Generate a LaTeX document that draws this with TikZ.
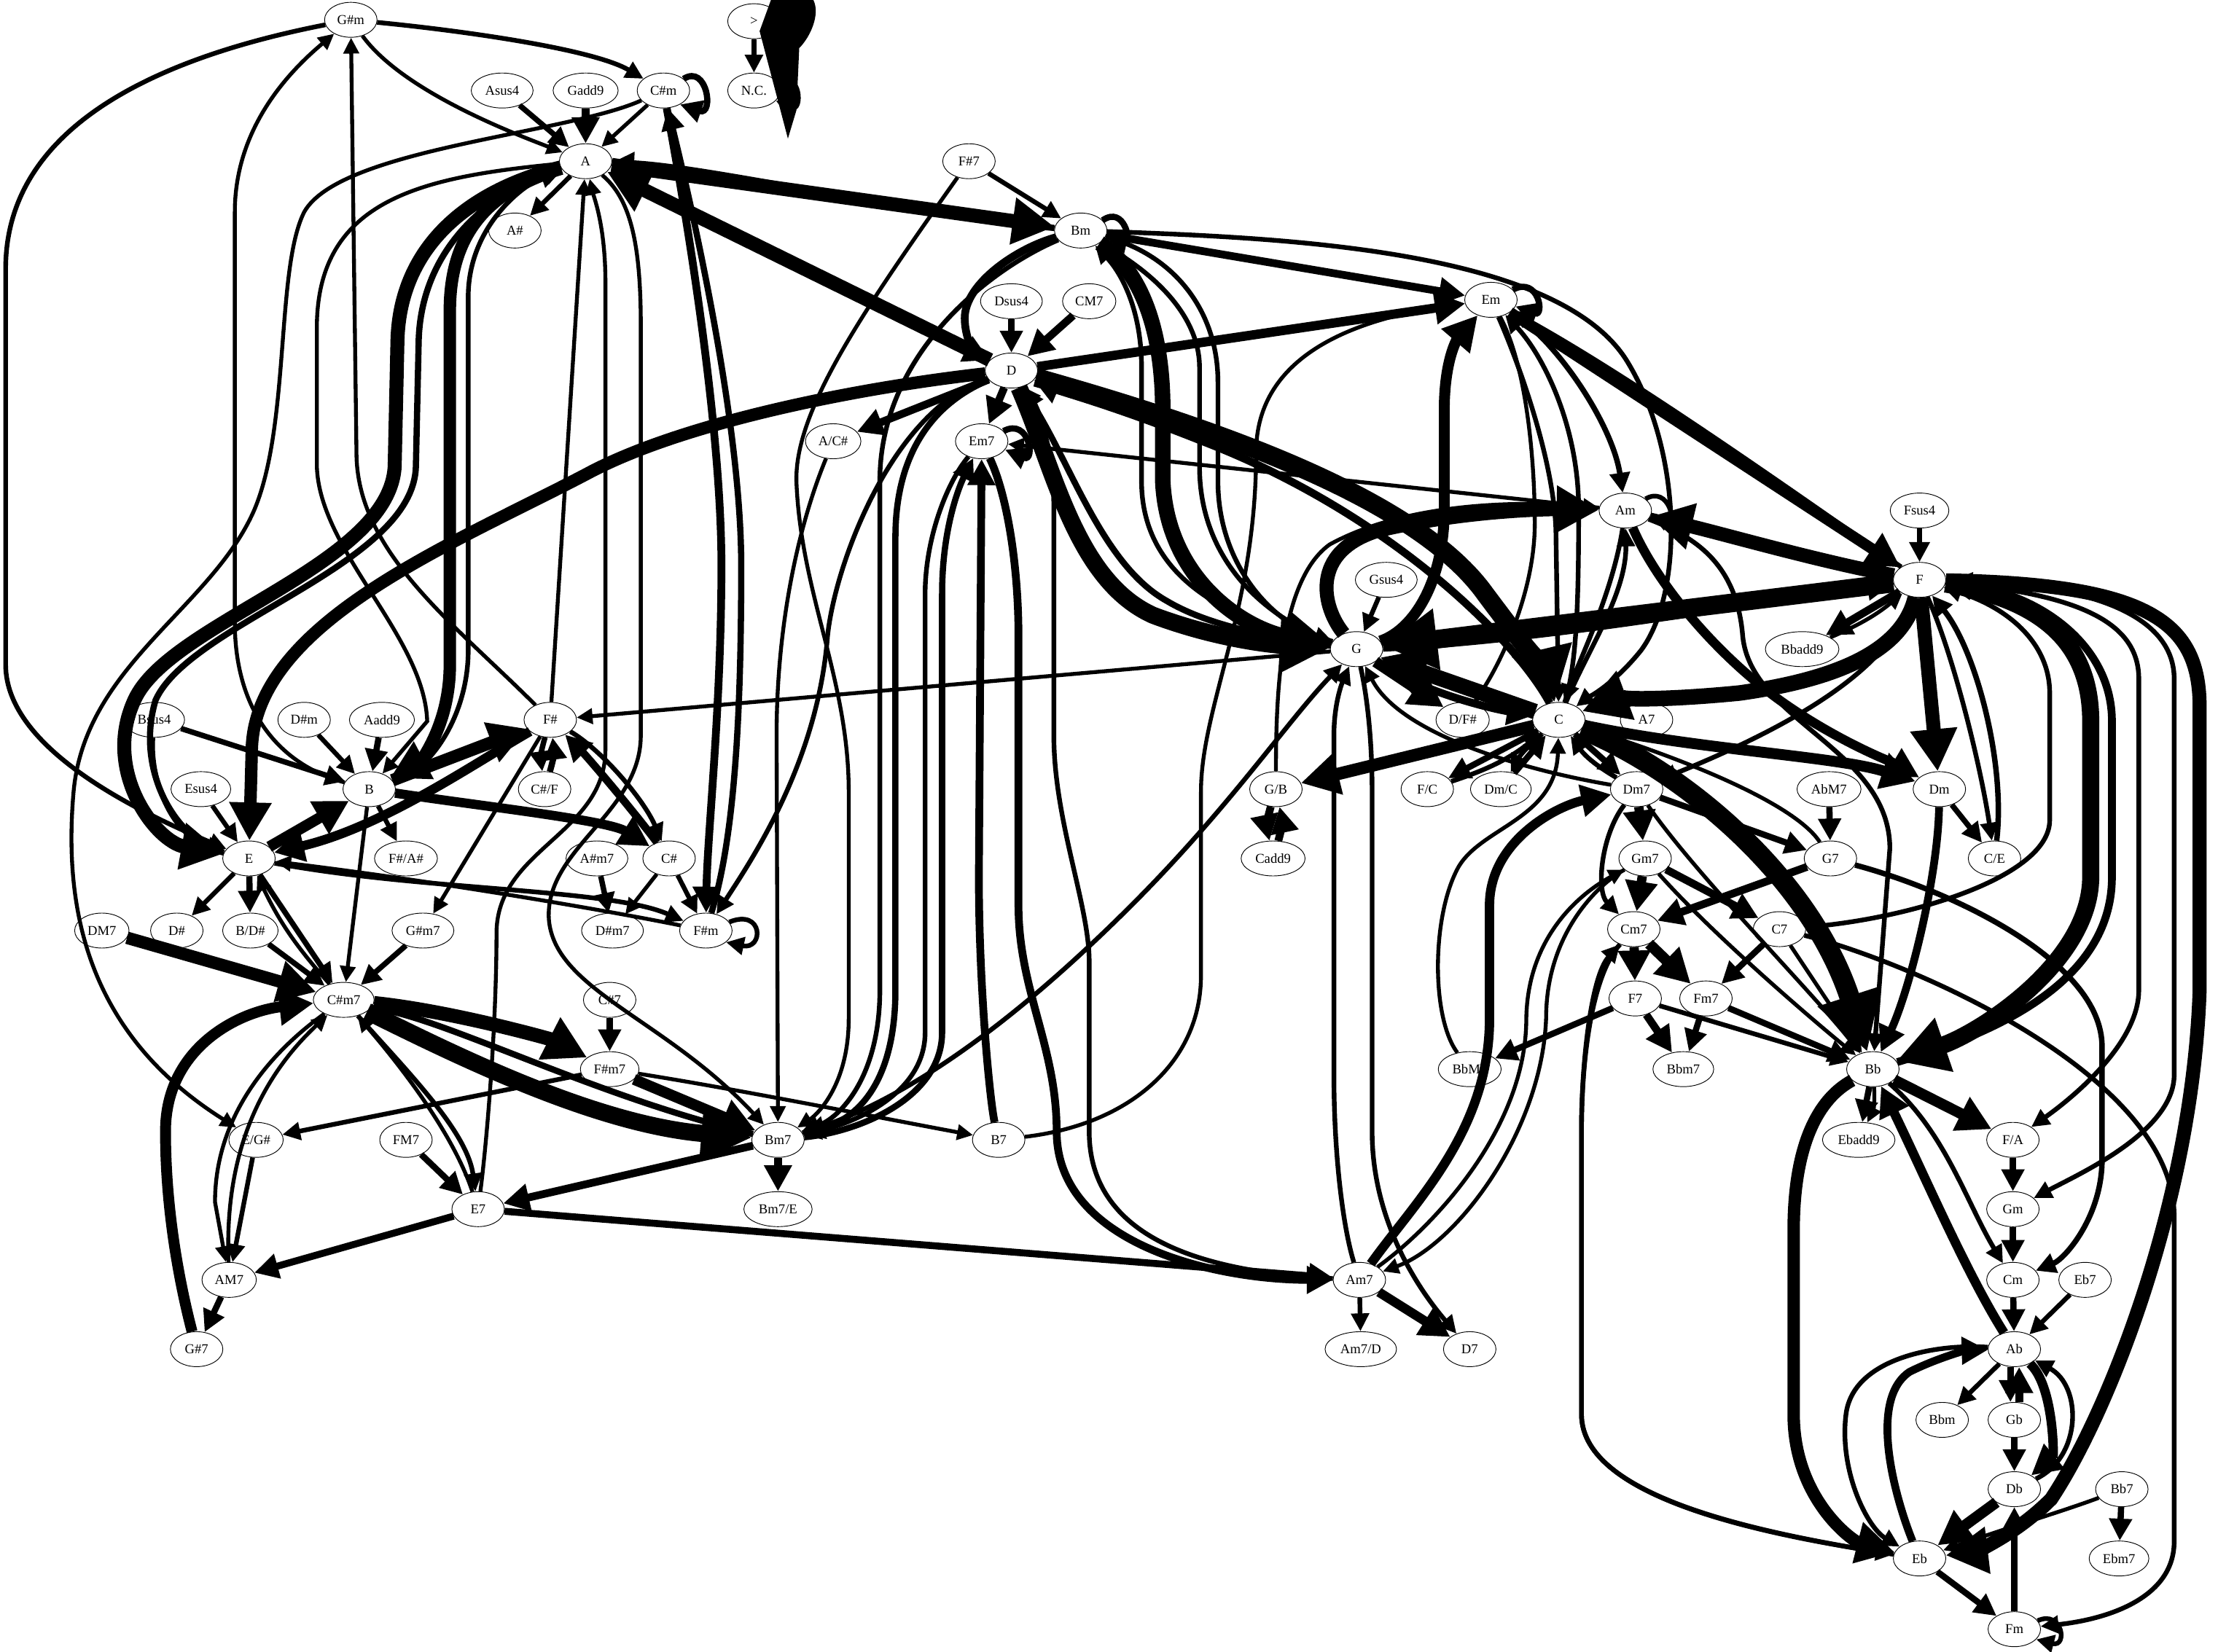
\documentclass[tikz,border=0pt]{standalone}
\usepackage{fontspec}
\setmainfont{Liberation Serif}
\usetikzlibrary{shapes.geometric,arrows.meta}
\tikzset{
  nd/.style={ellipse, draw, line width=0.7pt, minimum width=54pt, minimum height=36pt, inner xsep=5pt, inner ysep=1pt, font=\fontsize{14}{16}\selectfont},
  ed/.style={draw, line width=#1*1.6pt, -{Triangle[length=6pt 2.6, width=4pt 2.9]}},
}
\begin{document}
\begin{tikzpicture}[x=1.4556pt, y=-1.4556pt]
\fill[white] (0,0) rectangle (1568,1168);
\useasboundingbox (0,0) rectangle (1568,1168);
% nodes
\node[nd] (Gsm) at (248,14) {G\#m};
\node[nd] (gt) at (533,15) {>};
\node[nd] (NC) at (533,64) {N.C.};
\node[nd] (Asus) at (355,64) {Asus4};
\node[nd] (Gadd) at (414,64) {Gadd9};
\node[nd] (Csm) at (469,64) {C\#m};
\node[nd] (A) at (414,114) {A};
\node[nd] (As) at (364,163) {A\#};
\node[nd] (Fs7) at (685,114) {F\#7};
\node[nd] (Bm) at (764,163) {Bm};
\node[nd] (Dsus) at (715,213) {Dsus4};
\node[nd] (CM7) at (770,213) {CM7};
\node[nd] (Em) at (1054,212) {Em};
\node[nd] (D) at (715,262) {D};
\node[nd] (ACs) at (589,312) {A/C\#};
\node[nd] (Em7) at (694,312) {Em7};
\node[nd] (Am) at (1149,361) {Am};
\node[nd] (Fsus) at (1357,361) {Fsus4};
\node[nd] (F) at (1357,410) {F};
\node[nd] (Gsus) at (980,410) {Gsus4};
\node[nd] (Bbadd) at (1274,459) {Bbadd9};
\node[nd] (G) at (959,459) {G};
\node[nd] (DFs) at (1034,509) {D/F\#};
\node[nd] (C) at (1102,509) {C};
\node[nd] (A7) at (1164,509) {A7};
\node[nd] (Bsus) at (109,509) {Bsus4};
\node[nd] (Dsm) at (215,509) {D\#m};
\node[nd] (Aadd) at (270,509) {Aadd9};
\node[nd] (Fs) at (389,509) {F\#};
\node[nd] (B) at (261,558) {B};
\node[nd] (CsF) at (385,558) {C\#/F};
\node[nd] (GB) at (902,558) {G/B};
\node[nd] (FC) at (1009,558) {F/C};
\node[nd] (DmC) at (1061,558) {Dm/C};
\node[nd] (Dm7) at (1157,558) {Dm7};
\node[nd] (AbM7) at (1293,558) {AbM7};
\node[nd] (Dm) at (1371,558) {Dm};
\node[nd] (Esus) at (142,558) {Esus4};
\node[nd] (E) at (176,607) {E};
\node[nd] (FsAs) at (287,607) {F\#/A\#};
\node[nd] (Asm7) at (422,607) {A\#m7};
\node[nd] (Cs) at (473,607) {C\#};
\node[nd] (Cadd) at (900,607) {Cadd9};
\node[nd] (Gm7) at (1163,607) {Gm7};
\node[nd] (G7) at (1294,607) {G7};
\node[nd] (CE) at (1410,607) {C/E};
\node[nd] (DM7) at (72,658) {DM7};
\node[nd] (Ds) at (125,658) {D\#};
\node[nd] (BDs) at (177,658) {B/D\#};
\node[nd] (Gsm7) at (299,658) {G\#m7};
\node[nd] (Dsm7) at (433,658) {D\#m7};
\node[nd] (Fsm) at (499,658) {F\#m};
\node[nd] (Cm7) at (1155,657) {Cm7};
\node[nd] (C7) at (1258,657) {C7};
\node[nd] (Csm7) at (243,707) {C\#m7};
\node[nd] (Cs7) at (431,707) {C\#7};
\node[nd] (F7) at (1156,706) {F7};
\node[nd] (Fm7) at (1206,706) {Fm7};
\node[nd] (Fsm7) at (431,756) {F\#m7};
\node[nd] (BbM7) at (1039,756) {BbM7};
\node[nd] (Bbm7) at (1190,756) {Bbm7};
\node[nd] (Bb) at (1324,756) {Bb};
\node[nd] (EGs) at (181,806) {E/G\#};
\node[nd] (Bm7) at (550,806) {Bm7};
\node[nd] (B7) at (706,806) {B7};
\node[nd] (Ebadd) at (1314,806) {Ebadd9};
\node[nd] (FA) at (1423,806) {F/A};
\node[nd] (FM7) at (287,806) {FM7};
\node[nd] (E7) at (338,855) {E7};
\node[nd] (Bm7E) at (550,855) {Bm7/E};
\node[nd] (Gm) at (1423,855) {Gm};
\node[nd] (AM7) at (162,905) {AM7};
\node[nd] (Am7) at (961,905) {Am7};
\node[nd] (Cm) at (1423,905) {Cm};
\node[nd] (Eb7) at (1474,905) {Eb7};
\node[nd] (Gs7) at (139,954) {G\#7};
\node[nd] (Am7D) at (962,954) {Am7/D};
\node[nd] (D7) at (1039,954) {D7};
\node[nd] (Ab) at (1424,954) {Ab};
\node[nd] (Bbm) at (1373,1004) {Bbm};
\node[nd] (Gb) at (1424,1004) {Gb};
\node[nd] (Db) at (1424,1053) {Db};
\node[nd] (Bb7) at (1500,1053) {Bb7};
\node[nd] (Eb) at (1357,1102) {Eb};
\node[nd] (Ebm7) at (1498,1102) {Ebm7};
\node[nd] (Fm) at (1424,1152) {Fm};
% top blob
\fill (545,0) -- (575,0) .. controls (580,10) and (573,26) .. (565,34) -- (563,78) -- (557,98) -- (537,22) -- cycle;
\draw[ed=3] (gt) -- (NC);
\draw[ed=3] (NC.15) .. controls (566,48) and (568,80) .. (NC.-25);
% top-left cluster
\draw[ed=3] (Gsm) .. controls (330,22) and (420,35) .. (Csm);
\draw[ed=2.5] (Gsm) .. controls (285,65) and (365,95) .. (A);
\draw[ed=3] (Gsm) .. controls (90,45) and (4,100) .. (4,190) -- (4,470) .. controls (4,530) and (100,575) .. (E);
\draw[ed=2.5] (B) .. controls (195,540) and (166,500) .. (166,440) -- (166,150) .. controls (166,90) and (205,50) .. (Gsm);
\draw[ed=2.5] (Fs) .. controls (320,440) and (252,390) .. (252,320) -- (Gsm);
\draw[ed=2.5] (Csm) .. controls (400,95) and (240,105) .. (215,150) .. controls (195,190) and (205,300) .. (180,360) .. controls (150,430) and (60,470) .. (52,560) .. controls (45,640) and (60,730) .. (EGs);
\draw[ed=2.5] (A) .. controls (300,125) and (225,140) .. (224,230) -- (224,330) .. controls (226,390) and (300,450) .. (302,510) -- (B);
\draw[ed=3.5] (Asus) -- (A);
\draw[ed=5] (Gadd) -- (A);
\draw[ed=2.5] (Csm) -- (A);
\draw[ed=4] (Csm.30) .. controls (500,45) and (505,82) .. (Csm.-40);
\draw[ed=3] (A) -- (As);
\draw[ed=9] (A) -- (Bm);
\draw[ed=4] (Bm) .. controls (650,152) and (500,118) .. (A);
\draw[ed=9] (D) -- (A);
\draw[ed=9] (A) .. controls (330,135) and (283,175) .. (281,240) -- (279,330) .. controls (275,400) and (120,440) .. (95,495) .. controls (72,545) and (110,595) .. (E);
\draw[ed=4] (E) .. controls (125,595) and (95,545) .. (110,495) .. controls (135,440) and (292,400) .. (294,330) -- (296,240) .. controls (298,180) and (340,140) .. (A);
\draw[ed=8] (A) .. controls (345,135) and (318,165) .. (318,220) -- (318,470) .. controls (318,515) and (295,540) .. (B);
\draw[ed=3] (B) .. controls (305,545) and (331,505) .. (331,460) -- (331,210) .. controls (331,160) and (370,130) .. (A);
\draw[ed=2.5] (Fs) -- (A);
\draw[ed=2.5] (E7) .. controls (345,800) and (351,720) .. (351,660) .. controls (351,600) and (428,590) .. (428,530) -- (428,200) .. controls (428,160) and (420,140) .. (A);
\draw[ed=2.5] (A) .. controls (445,140) and (453,170) .. (453,230) -- (453,520) .. controls (453,575) and (385,600) .. (388,650) .. controls (392,700) and (470,720) .. (Bm7);
\draw[ed=8] (D) .. controls (600,275) and (480,300) .. (415,335) .. controls (320,385) and (180,440) .. (178,530) -- (E);
\draw[ed=7] (E) -- (B);
\draw[ed=8] (B) -- (Fs);
\draw[ed=6] (Fs) .. controls (335,540) and (270,585) .. (E);
\draw[ed=6] (B) .. controls (340,570) and (430,580) .. (Cs);
\draw[ed=5] (Cs) .. controls (445,570) and (415,535) .. (Fs);
\draw[ed=3] (Fs) .. controls (425,530) and (455,565) .. (Cs);
\draw[ed=3.5] (Fs) to[bend right=12] (CsF);
\draw[ed=4] (CsF) to[bend right=12] (Fs);
\draw[ed=3.5] (Bsus) -- (B);
\draw[ed=3] (Bsus) .. controls (106,550) and (120,590) .. (E);
\draw[ed=3] (Dsm) -- (B);
\draw[ed=4] (Aadd) -- (B);
\draw[ed=3] (Esus) -- (E);
\draw[ed=3] (B) -- (FsAs);
\draw[ed=3] (E) -- (Ds);
\draw[ed=4] (E) -- (BDs);
\draw[ed=3.5] (E) -- (Csm7);
\draw[ed=2.5] (Csm7) to[bend left=8] (E);
\draw[ed=3] (E) .. controls (300,630) and (430,628) .. (Fsm);
\draw[ed=2.5] (Fsm) .. controls (420,642) and (300,622) .. (E);
\draw[ed=2.5] (B) -- (Csm7);
\draw[ed=2.5] (Fs) -- (Gsm7);
\draw[ed=3.5] (BDs) -- (Csm7);
\draw[ed=3.5] (Gsm7) -- (Csm7);
\draw[ed=3.5] (Asm7) -- (Dsm7);
\draw[ed=2.5] (Cs) -- (Dsm7);
\draw[ed=3] (Cs) -- (Fsm);
\draw[ed=5] (Csm) .. controls (485,150) and (510,300) .. (510,400) .. controls (510,500) and (500,590) .. (Fsm);
\draw[ed=4] (Fsm) .. controls (520,590) and (524,500) .. (524,400) .. controls (524,300) and (490,150) .. (Csm);
\draw[ed=3] (Fsm.20) .. controls (540,642) and (540,672) .. (Fsm.-30);
\draw[ed=3] (D) .. controls (630,290) and (590,400) .. (585,450) .. controls (578,540) and (530,610) .. (Fsm);
\draw[ed=8] (DM7) -- (Csm7);
\draw[ed=7] (Gs7) .. controls (125,900) and (117,850) .. (117,800) .. controls (117,740) and (170,715) .. (Csm7);
\draw[ed=9] (Csm7) .. controls (320,715) and (390,735) .. (Fsm7);
\draw[ed=11] (Csm7) .. controls (320,745) and (420,795) .. (Bm7);
\draw[ed=4] (Bm7) .. controls (430,778) and (330,728) .. (Csm7);
\draw[ed=7] (Fsm7) -- (Bm7);
\draw[ed=4] (Cs7) -- (Fsm7);
\draw[ed=3] (Fsm7) -- (EGs);
\draw[ed=2.5] (Fsm7) .. controls (520,770) and (620,790) .. (B7);
\draw[ed=2.5] (Csm7) .. controls (190,745) and (152,790) .. (152,850) -- (AM7);
\draw[ed=2.5] (AM7) .. controls (160,850) and (165,780) .. (Csm7);
\draw[ed=3] (EGs) -- (AM7);
\draw[ed=3] (Csm7) .. controls (290,760) and (330,800) .. (E7);
\draw[ed=2.5] (E7) .. controls (320,800) and (280,750) .. (Csm7);
\draw[ed=4] (FM7) -- (E7);
\draw[ed=5] (Bm7) -- (E7);
\draw[ed=4.5] (E7) -- (AM7);
\draw[ed=4.5] (E7) -- (Am7);
\draw[ed=4] (AM7) -- (Gs7);
\draw[ed=5] (Bm7) -- (Bm7E);
% center
\draw[ed=3] (Fs7) -- (Bm);
\draw[ed=4] (Bm.25) .. controls (795,145) and (800,172) .. (Bm.-15);
\draw[ed=5] (Bm) -- (Em);
\draw[ed=5] (Bm) .. controls (720,175) and (682,200) .. (682,225) .. controls (682,240) and (690,250) .. (D);
\draw[ed=3] (Bm) .. controls (900,168) and (1100,175) .. (1150,255) .. controls (1190,320) and (1190,420) .. (1160,460) .. controls (1140,485) and (1120,495) .. (C);
\draw[ed=10] (Bm) .. controls (805,190) and (822,230) .. (822,290) -- (822,340) .. controls (825,410) and (880,445) .. (G);
\draw[ed=3] (G) .. controls (870,440) and (807,410) .. (807,340) -- (807,260) .. controls (807,215) and (790,190) .. (Bm);
\draw[ed=3] (G) .. controls (900,440) and (848,400) .. (848,330) -- (848,260) .. controls (848,215) and (800,185) .. (Bm);
\draw[ed=3] (Bm) .. controls (830,180) and (861,220) .. (861,270) -- (861,340) .. controls (861,400) and (900,440) .. (G);
\draw[ed=3] (Bm) .. controls (700,190) and (622,250) .. (622,340) -- (622,700) .. controls (622,760) and (595,790) .. (Bm7);
\draw[ed=2.5] (Fs7) .. controls (610,220) and (562,290) .. (563,340) .. controls (566,420) and (600,480) .. (600,560) -- (600,720) .. controls (600,770) and (575,790) .. (Bm7);
\draw[ed=2.5] (ACs) .. controls (565,370) and (549,440) .. (549,520) -- (Bm7);
\draw[ed=4] (Dsus) -- (D);
\draw[ed=5] (CM7) -- (D);
\draw[ed=5] (D) -- (Em7);
\draw[ed=4] (Em7.25) .. controls (728,295) and (732,327) .. (Em7.-20);
\draw[ed=5] (D) -- (ACs);
\draw[ed=6] (D) -- (Em);
\draw[ed=12] (D) .. controls (850,300) and (1000,350) .. (1050,420) .. controls (1080,460) and (1095,480) .. (C);
\draw[ed=5] (C) .. controls (1070,450) and (980,362) .. (850,312) .. controls (790,288) and (750,277) .. (D);
\draw[ed=11] (D) .. controls (745,330) and (760,410) .. (815,435) .. controls (860,452) and (900,456) .. (G);
\draw[ed=4] (G) .. controls (890,450) and (850,440) .. (825,425) .. controls (780,400) and (758,330) .. (D);
\draw[ed=4] (D) .. controls (660,285) and (633,320) .. (633,380) -- (633,700) .. controls (633,760) and (610,790) .. (Bm7);
\draw[ed=3] (Em7) .. controls (670,340) and (654,380) .. (654,420) -- (654,730) .. controls (654,775) and (600,795) .. (Bm7);
\draw[ed=4] (Bm7) .. controls (610,800) and (666,775) .. (666,730) -- (666,420) .. controls (666,370) and (680,340) .. (Em7);
\draw[ed=5] (B7) .. controls (700,780) and (692,700) .. (692,620) -- (Em7);
\draw[ed=5] (Em7) .. controls (712,350) and (720,400) .. (720,450) -- (720,640) .. controls (720,700) and (747,740) .. (747,800) .. controls (747,880) and (860,905) .. (Am7);
\draw[ed=3] (Am7) .. controls (860,900) and (770,880) .. (770,800) -- (770,680) .. controls (770,640) and (745,580) .. (745,520) -- (745,360) .. controls (745,320) and (735,290) .. (D);
\draw[ed=3] (Bm7) .. controls (640,780) and (720,720) .. (800,640) .. controls (870,570) and (910,510) .. (G);
\draw[ed=2.5] (B7) .. controls (800,795) and (849,750) .. (849,690) -- (849,560) .. controls (849,500) and (888,430) .. (888,320) .. controls (888,250) and (960,225) .. (Em);
\draw[ed=2.5] (Am) -- (Em7);
% G / Em / Am
\draw[ed=7] (G) .. controls (1000,445) and (1021,410) .. (1021,360) -- (1021,290) .. controls (1021,255) and (1030,240) .. (Em);
\draw[ed=4] (Em.25) .. controls (1088,195) and (1092,224) .. (Em.-15);
\draw[ed=7] (Em) -- (F);
\draw[ed=3] (F) .. controls (1250,335) and (1150,265) .. (Em);
\draw[ed=3.5] (Em) .. controls (1100,240) and (1140,300) .. (Am);
\draw[ed=2.5] (Em) .. controls (1080,260) and (1085,330) .. (1085,370) .. controls (1085,420) and (1060,470) .. (DFs);
\draw[ed=3] (Em) .. controls (1075,260) and (1100,330) .. (1100,380) -- (C);
\draw[ed=3] (C) .. controls (1115,470) and (1116,420) .. (1116,360) .. controls (1116,300) and (1090,250) .. (Em);
\draw[ed=9] (G) .. controls (935,430) and (925,390) .. (975,375) .. controls (1040,360) and (1100,360) .. (Am);
\draw[ed=2.5] (GB) .. controls (902,490) and (905,410) .. (940,385) .. controls (1000,352) and (1090,355) .. (Am);
\draw[ed=5] (Am) -- (F);
\draw[ed=9] (F) .. controls (1290,398) and (1220,378) .. (Am);
\draw[ed=3] (Am.30) .. controls (1180,343) and (1186,372) .. (Am.-10);
\draw[ed=6] (Am) .. controls (1170,410) and (1210,460) .. (1258,495) .. controls (1300,525) and (1340,540) .. (Dm);
\draw[ed=3] (Am) .. controls (1200,380) and (1228,400) .. (1232,450) .. controls (1238,510) and (1336,530) .. (1336,600) -- (Bb);
\draw[ed=3] (Am) .. controls (1140,420) and (1115,470) .. (C);
\draw[ed=3] (C) .. controls (1122,460) and (1150,420) .. (Am);
\draw[ed=12] (F) -- (G);
\draw[ed=5] (G) .. controls (1100,452) and (1250,424) .. (F);
\draw[ed=3] (Gsus) -- (G);
\draw[ed=7] (G) -- (DFs);
\draw[ed=10] (C) -- (G);
\draw[ed=5] (G) .. controls (1010,492) and (1060,502) .. (C);
\draw[ed=8] (C) -- (GB);
\draw[ed=5] (GB) to[bend right=14] (Cadd);
\draw[ed=5] (Cadd) to[bend right=14] (GB);
\draw[ed=2.5] (G) -- (Fs);
\draw[ed=3] (Am7) .. controls (950,870) and (943,820) .. (943,760) -- (943,520) .. controls (943,495) and (950,480) .. (G);
\draw[ed=3] (G) .. controls (966,490) and (970,520) .. (970,560) -- (970,800) .. controls (970,870) and (1010,920) .. (D7);
\draw[ed=2.5] (Dm7) .. controls (1080,545) and (990,520) .. (G);
% C region
\draw[ed=10] (F) .. controls (1345,460) and (1300,480) .. (1230,490) .. controls (1180,495) and (1140,495) .. (C);
\draw[ed=7] (C) .. controls (1200,530) and (1300,535) .. (Dm);
\draw[ed=9] (F) -- (Dm);
\draw[ed=13] (C) .. controls (1190,545) and (1280,620) .. (Bb);
\draw[ed=4] (C) -- (FC);
\draw[ed=3] (FC) to[bend right=10] (C);
\draw[ed=4] (DmC) -- (C);
\draw[ed=3] (C) to[bend right=10] (DmC);
\draw[ed=4] (C) -- (Dm7);
\draw[ed=3] (Dm7) to[bend left=12] (C);
\draw[ed=2.5] (BbM7) .. controls (1012,720) and (1012,650) .. (1030,615) .. controls (1045,585) and (1100,580) .. (C);
\draw[ed=2.5] (G7) .. controls (1270,570) and (1200,540) .. (C);
\draw[ed=3] (F) .. controls (1340,460) and (1300,500) .. (Dm7);
\draw[ed=5] (F) -- (Bbadd);
\draw[ed=2.5] (Bbadd) to[bend right=8] (F);
\draw[ed=3.5] (Fsus) -- (F);
\draw[ed=3.5] (Dm) -- (CE);
\draw[ed=3] (F) .. controls (1380,460) and (1400,540) .. (CE);
\draw[ed=3.5] (CE) .. controls (1418,540) and (1397,460) .. (F);
\draw[ed=3] (C7) .. controls (1350,650) and (1449,620) .. (1449,580) -- (1449,490) .. controls (1449,455) and (1420,430) .. (F);
\draw[ed=3] (F) .. controls (1470,420) and (1512,440) .. (1512,480) -- (1512,700) .. controls (1512,740) and (1460,780) .. (FA);
\draw[ed=3] (F) .. controls (1490,412) and (1537,440) .. (1537,480) -- (1537,760) .. controls (1537,800) and (1470,830) .. (Gm);
\draw[ed=9] (F) .. controls (1520,413) and (1555,440) .. (1555,500) -- (1555,700) .. controls (1550,850) and (1490,1000) .. (1450,1060) .. controls (1420,1090) and (1390,1098) .. (Eb);
\draw[ed=11] (F) .. controls (1450,425) and (1478,460) .. (1478,510) -- (1478,620) .. controls (1478,680) and (1400,730) .. (Bb);
\draw[ed=5] (Bb) .. controls (1420,728) and (1493,690) .. (1493,620) -- (1493,510) .. controls (1493,455) and (1440,420) .. (F);
\draw[ed=5] (Dm) .. controls (1370,620) and (1350,700) .. (Bb);
\draw[ed=4] (AbM7) -- (G7);
\draw[ed=3.5] (G7) .. controls (1380,630) and (1486,680) .. (1486,740) -- (1486,820) .. controls (1486,860) and (1460,890) .. (Cm);
\draw[ed=5] (G7) -- (Cm7);
\draw[ed=4] (Dm7) -- (G7);
\draw[ed=6] (Dm7) -- (Gm7);
\draw[ed=6] (Gm7) -- (Cm7);
\draw[ed=3] (Dm7) .. controls (1132,590) and (1128,630) .. (Cm7);
\draw[ed=6] (Cm7) -- (F7);
\draw[ed=7] (Cm7) -- (Fm7);
\draw[ed=5] (Gm7) -- (C7);
\draw[ed=4] (C7) -- (Fm7);
\draw[ed=5] (F7) -- (Bbm7);
\draw[ed=4] (Fm7) -- (Bbm7);
\draw[ed=4] (F7) -- (BbM7);
\draw[ed=3] (C7) .. controls (1350,680) and (1537,760) .. (1537,860) -- (1537,1090) .. controls (1537,1130) and (1490,1145) .. (Fm);
\draw[ed=3] (Cm7) .. controls (1125,690) and (1118,750) .. (1118,800) -- (1118,1000) .. controls (1118,1060) and (1250,1085) .. (Eb);
\draw[ed=3] (Eb) .. controls (1250,1085) and (1118,1060) .. (1118,1000) -- (1118,800) .. controls (1118,750) and (1125,690) .. (Cm7);
\draw[ed=2.5] (Dm7) .. controls (1200,620) and (1280,700) .. (Bb);
\draw[ed=2.5] (Gm7) .. controls (1210,660) and (1280,720) .. (Bb);
\draw[ed=2.5] (C7) -- (Bb);
\draw[ed=4] (Fm7) -- (Bb);
\draw[ed=3] (F7) -- (Bb);
\draw[ed=6] (Am7) .. controls (1000,850) and (1053,800) .. (1053,720) -- (1053,640) .. controls (1053,595) and (1100,570) .. (Dm7);
\draw[ed=2.5] (Am7) .. controls (1010,870) and (1079,800) .. (1079,720) .. controls (1080,660) and (1120,630) .. (Gm7);
\draw[ed=2.5] (Gm7) .. controls (1130,625) and (1093,660) .. (1093,720) .. controls (1090,800) and (1030,880) .. (Am7);
\draw[ed=3] (Am7) -- (Am7D);
\draw[ed=6] (Am7) -- (D7);
% Bb region
\draw[ed=7] (Bb) -- (FA);
\draw[ed=4] (Bb) -- (Ebadd);
\draw[ed=2.5] (Bb) to[bend left=15] (Ebadd);
\draw[ed=3] (Bb) .. controls (1375,800) and (1390,850) .. (Cm);
\draw[ed=6] (Ab) .. controls (1390,900) and (1360,830) .. (Bb);
\draw[ed=8] (Bb) .. controls (1280,780) and (1268,820) .. (1268,870) -- (1268,1000) .. controls (1268,1060) and (1310,1090) .. (Eb);
\draw[ed=4] (FA) -- (Gm);
\draw[ed=4] (Gm) -- (Cm);
\draw[ed=4] (Cm) -- (Ab);
\draw[ed=3] (Eb7) -- (Ab);
\draw[ed=3] (Ab) -- (Bbm);
\draw[ed=4] ([xshift=-4pt]Ab.south) -- ([xshift=-4pt]Gb.north);
\draw[ed=5] ([xshift=5pt]Gb.north) -- ([xshift=5pt]Ab.south);
\draw[ed=4] (Gb) -- (Db);
\draw[ed=6] (Ab) .. controls (1452,980) and (1452,1030) .. (Db);
\draw[ed=3] (Db) .. controls (1472,1030) and (1472,980) .. (Ab);
\draw[ed=7] (Db) -- (Eb);
\draw[ed=5] (Eb) .. controls (1340,1060) and (1320,990) .. (1350,970) .. controls (1370,960) and (1390,955) .. (Ab);
\draw[ed=3] (Ab) .. controls (1370,950) and (1310,960) .. (1305,1000) .. controls (1300,1040) and (1320,1080) .. (Eb);
\draw[ed=4] (Eb) -- (Fm);
\draw[ed=4] (Fm) -- (Db);
\draw[ed=3] (Fm.20) .. controls (1458,1138) and (1462,1165) .. (Fm.-25);
\draw[ed=4] (Bb7) -- (Ebm7);
\draw[ed=2.5] (Bb7) .. controls (1460,1068) and (1420,1080) .. (Eb);
\end{tikzpicture}
\end{document}
